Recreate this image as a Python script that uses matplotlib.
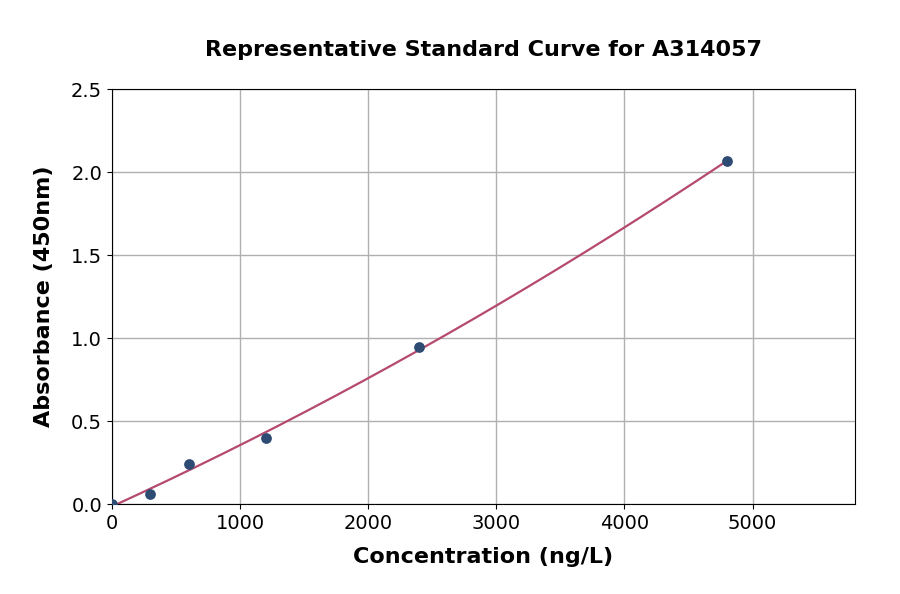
import numpy as np
import matplotlib
matplotlib.use("Agg")
import matplotlib.pyplot as plt

conc = [0, 300, 600, 1200, 2400, 4800]
absorb = [0.0, 0.06, 0.24, 0.40, 0.945, 2.065]
x_ticks = [0, 1000, 2000, 3000, 4000, 5000]
y_ticks = [0.0, 0.5, 1.0, 1.5, 2.0, 2.5]

fig = plt.figure(figsize=(9, 5.94), dpi=100)
ax = fig.add_axes([0.1244, 0.1515, 0.8256, 0.6985])

coef = np.polyfit(conc, absorb, 2)
xs = np.linspace(0, max(conc), 200)
ax.plot(xs, np.polyval(coef, xs), color="#b5496e", lw=1.6, zorder=2)
ax.scatter(conc, absorb, s=45, color="#2d4b73", zorder=3)

ax.set_xlim(0, 5800)
ax.set_ylim(0, 2.5)
ax.set_xticks(x_ticks)
ax.set_yticks(y_ticks)
ax.set_yticklabels([f"{v:.1f}" for v in y_ticks])
ax.tick_params(labelsize=14)
ax.grid(True, color="#b0b0b0", lw=1)
ax.set_axisbelow(True)
ax.set_xlabel("Concentration (ng/L)", fontsize=16, fontweight="bold", labelpad=10)
ax.set_ylabel("Absorbance (450nm)", fontsize=16, fontweight="bold", labelpad=12)
ax.set_title("Representative Standard Curve for A314057", fontsize=16, fontweight="bold", pad=24)

fig.savefig("out.png", dpi=100)
